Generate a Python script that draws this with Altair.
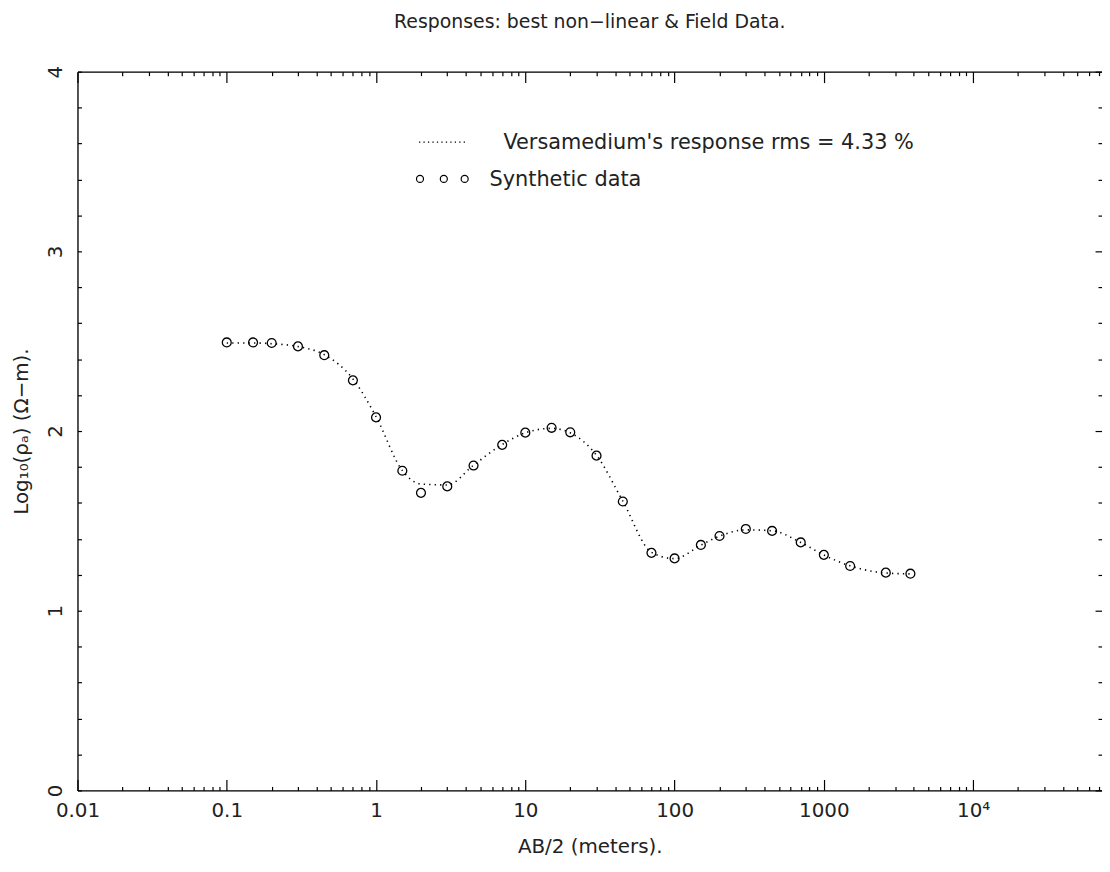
import altair as alt
import pandas as pd

# ---- data ----
ab2 = [0.1, 0.15, 0.2, 0.3, 0.45, 0.7, 1, 1.5, 2, 3, 4.5, 7, 10, 15, 20, 30, 45,
       70, 100, 150, 200, 300, 450, 700, 1000, 1500, 2600, 3800]
synthetic = [2.493, 2.493, 2.490, 2.471, 2.422, 2.282, 2.076, 1.779, 1.656, 1.692,
             1.808, 1.923, 1.991, 2.018, 1.993, 1.863, 1.608, 1.322, 1.291, 1.366,
             1.416, 1.455, 1.444, 1.380, 1.311, 1.249, 1.212, 1.206]
response = [2.490, 2.490, 2.486, 2.470, 2.425, 2.290, 2.080, 1.780, 1.705, 1.700,
            1.810, 1.925, 1.990, 2.015, 1.990, 1.865, 1.610, 1.325, 1.290, 1.365,
            1.415, 1.450, 1.445, 1.380, 1.310, 1.250, 1.210, 1.205]

x_major = [0.01, 0.1, 1, 10, 100, 1000, 10000]
x_minor = [m * 10.0 ** k for k in range(-2, 5) for m in range(2, 10) if m * 10.0 ** k < 73000]
y_ticks = [round(0.2 * i, 1) for i in range(21)]
y_major = [0, 1, 2, 3, 4]
y_minor = [v for v in y_ticks if v not in y_major]

title_text = "Responses: best non\u2212linear & Field Data."
x_title = "AB/2 (meters)."
y_title = "Log\u2081\u2080(\u03c1\u2090) (\u03a9\u2212m)."
legend_line_text = "Versamedium's response rms = 4.33 %"
legend_pts_text = "Synthetic data"

df = pd.DataFrame({"ab2": ab2, "synthetic": synthetic, "response": response})

FONT = "DejaVu Sans"
INK = "#222222"
xs = alt.Scale(type="log", domain=[0.01, 73000], nice=False)
ys = alt.Scale(domain=[0, 4], nice=False, zero=False)


def ax(**kw):
    base = dict(grid=False, title=None, labels=False, domain=False, ticks=True,
                tickColor="black", tickWidth=1.2, labelFlush=False,
                labelOverlap=False, labelBound=False)
    base.update(kw)
    return alt.Axis(**base)


def dom(**kw):
    base = dict(grid=False, labels=False, ticks=False, domain=True,
                domainColor="black", domainWidth=1.3, title=None)
    base.update(kw)
    return alt.Axis(**base)


base = alt.Chart(df)

line = base.mark_line(interpolate="monotone", color="black", strokeWidth=1.6,
                      strokeDash=[1.3, 4.2]).encode(
    x=alt.X("ab2:Q", scale=xs, axis=ax(
        orient="bottom", values=x_major, tickSize=11, offset=-11, labels=True,
        labelExpr="datum.value >= 10000 ? '10\u2074' : (datum.value < 0.05 ? '0.01' : (datum.value < 0.5 ? '0.1' : format(datum.value, 'd')))",
        labelFont=FONT, labelFontSize=20, labelColor=INK, labelPadding=10)),
    y=alt.Y("response:Q", scale=ys, axis=ax(
        orient="left", values=y_ticks, tickSize=4, offset=-4, labels=True,
        labelExpr="abs(datum.value - round(datum.value)) < 0.001 ? format(datum.value, 'd') : ''",
        labelAngle=270, labelAlign="center", labelBaseline="alphabetic",
        labelFont=FONT, labelFontSize=20, labelColor=INK, labelPadding=16)),
)

points = base.mark_point(shape="circle", filled=False, size=80, color="black",
                         strokeWidth=1.3, opacity=1).encode(
    x=alt.X("ab2:Q", scale=xs, axis=ax(orient="bottom", values=x_minor, tickSize=4, offset=-4)),
    y=alt.Y("synthetic:Q", scale=ys, axis=ax(orient="right", values=y_minor, tickSize=4, offset=-4)),
)

inv3 = base.mark_point(opacity=0).encode(
    x=alt.X("ab2:Q", scale=xs, axis=ax(orient="top", values=x_major, tickSize=11, offset=-11)),
    y=alt.Y("synthetic:Q", scale=ys, axis=ax(orient="right", values=y_major, tickSize=7, offset=-7)),
)

inv4 = base.mark_point(opacity=0).encode(
    x=alt.X("ab2:Q", scale=xs, axis=ax(orient="top", values=x_minor, tickSize=4, offset=-4)),
    y=alt.Y("synthetic:Q", scale=ys, axis=dom(
        orient="left", title=y_title, titleFont=FONT, titleFontSize=20,
        titleFontWeight="normal", titleColor=INK, titlePadding=50,
        titleBaseline="alphabetic")),
)

inv5 = base.mark_point(opacity=0).encode(
    x=alt.X("ab2:Q", scale=xs, axis=dom(
        orient="bottom", title=x_title, titleFont=FONT, titleFontSize=20,
        titleFontWeight="normal", titleColor=INK, titlePadding=63,
        titleBaseline="alphabetic")),
    y=alt.Y("synthetic:Q", scale=ys, axis=None),
)

inv6 = base.mark_point(opacity=0).encode(
    x=alt.X("ab2:Q", scale=xs, axis=dom(orient="top")),
    y=alt.Y("synthetic:Q", scale=ys, axis=None),
)

one = pd.DataFrame({"k": [0]})
title_mark = alt.Chart(one).mark_text(align="center", baseline="alphabetic", font=FONT,
                                      fontSize=19, color=INK).encode(
    x=alt.value(516), y=alt.value(-44), text=alt.value(title_text))
leg_rule = alt.Chart(one).mark_rule(color="black", strokeWidth=1.4,
                                    strokeDash=[1.3, 3.2]).encode(
    x=alt.value(344), x2=alt.value(392), y=alt.value(71))
leg_pts = [alt.Chart(one).mark_point(shape="circle", filled=False, size=50,
                                     color="black", strokeWidth=1.2, opacity=1).encode(
    x=alt.value(px), y=alt.value(108)) for px in (345, 369, 390)]
leg_t1 = alt.Chart(one).mark_text(align="left", baseline="middle", font=FONT,
                                  fontSize=21, color=INK).encode(
    x=alt.value(429), y=alt.value(72), text=alt.value(legend_line_text))
leg_t2 = alt.Chart(one).mark_text(align="left", baseline="middle", font=FONT,
                                  fontSize=21, color=INK).encode(
    x=alt.value(415), y=alt.value(109), text=alt.value(legend_pts_text))

chart = alt.layer(
    line, points, inv3, inv4, inv5, inv6, title_mark, leg_rule, *leg_pts, leg_t1, leg_t2
).resolve_axis(x="independent", y="independent").properties(
    width=1032, height=724,
    padding={"left": 70, "top": 61, "right": 0, "bottom": 71},
    autosize=alt.AutoSizeParams(type="none"),
).configure_view(stroke=None).configure(background="white")

chart.save("out.html", embed_options={"renderer": "svg", "actions": False})
